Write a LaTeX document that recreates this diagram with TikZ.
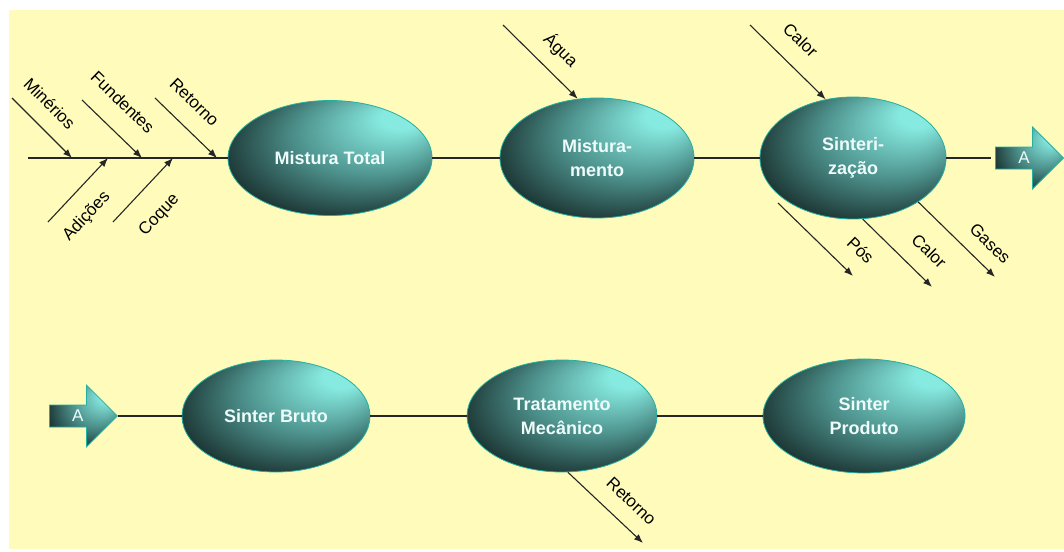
\documentclass[tikz,border=0pt]{standalone}
\usepackage{fontspec}
\setmainfont{Liberation Sans}
\usetikzlibrary{arrows.meta,shapes.geometric,shapes.arrows}

\definecolor{paper}{HTML}{FFFCBB}
\definecolor{rim}{HTML}{22B0A2}
\definecolor{hilite}{HTML}{86EAE0}
\definecolor{midteal}{HTML}{4C8F8A}
\definecolor{deepteal}{HTML}{1C3634}
\definecolor{coal}{HTML}{081111}
\definecolor{ink}{HTML}{262626}
\definecolor{paletxt}{HTML}{EEFCFC}

\pgfdeclareradialshading{oval}{\pgfpoint{20bp}{20bp}}{%
  color(0bp)=(hilite); color(5bp)=(hilite); color(19bp)=(midteal);
  color(31bp)=(deepteal); color(39bp)=(coal)}

\begin{document}
\begin{tikzpicture}[x=1pt,y=-1pt,>={Latex[length=9pt,width=7pt]},
  stage/.style={ellipse,draw=rim,line width=0.8pt,shading=oval,text=paletxt,
    font=\fontsize{18}{24}\selectfont\bfseries,align=center,inner sep=0pt},
  tag/.style={single arrow,draw=rim,line width=0.8pt,shading=oval,text=paletxt,
    font=\fontsize{17}{20}\selectfont,inner sep=2pt,minimum height=68pt,
    minimum width=62pt,single arrow head extend=15pt},
  link/.style={draw=ink,line width=1.1pt},
  feed/.style={->,draw=ink,line width=1.1pt},
  lbl/.style={font=\fontsize{17}{20}\selectfont,sloped,inner sep=1pt}]

\useasboundingbox (0,0) rectangle (1064,551);
\fill[paper] (9,10) rectangle (1064,549);

\node[stage,minimum width=204pt,minimum height=115pt] (mt) at (330,158) {Mistura Total};
\node[stage,minimum width=194pt,minimum height=120pt] (ms) at (597,158) {Mistura-\\mento};
\node[stage,minimum width=186pt,minimum height=122pt] (sz) at (853,158) {Sinteri-\\zação};
\node[tag,anchor=tip] (a1) at (1064,158) {A};

\node[tag,anchor=tail] (a2) at (49,416) {A};
\node[stage,minimum width=188pt,minimum height=112pt] (sb) at (276,416) {Sinter Bruto};
\node[stage,minimum width=190pt,minimum height=112pt] (tm) at (562,416) {Tratamento\\Mecânico};
\node[stage,minimum width=202pt,minimum height=114pt] (sp) at (864,416) {Sinter\\Produto};

\coordinate (spine) at (28,158);
\coordinate (min0) at (12,98);   \coordinate (min1) at (72,158);
\coordinate (fun0) at (82,100);  \coordinate (fun1) at (142,158);
\coordinate (ret0) at (155,98);  \coordinate (ret1) at (217,158);
\coordinate (adi0) at (48,222);  \coordinate (adi1) at (108,158);
\coordinate (coq0) at (113,222); \coordinate (coq1) at (173,158);
\coordinate (agua) at (503,25);
\coordinate (calin) at (750,25);
\coordinate (pos0) at (778,203); \coordinate (pos1) at (853,276);
\coordinate (calout) at (932,287);
\coordinate (gas) at (995,277);
\coordinate (retout) at (643,543);

\draw[link] (spine) -- (mt.west);
\draw[link] (mt.east) -- (ms.west);
\draw[link] (ms.east) -- (sz.west);
\draw[link] (sz.east) -- ([xshift=-4pt]a1.tail);
\draw[link] (a2.tip) -- (sb.west);
\draw[link] (sb.east) -- (tm.west);
\draw[link] (tm.east) -- (sp.west);

\draw[feed] (min0) -- node[lbl,above=15pt,pos=.36] {Minérios} (min1);
\draw[feed] (fun0) -- node[lbl,above=19pt,pos=.37] {Fundentes} (fun1);
\draw[feed] (ret0) -- node[lbl,above=17pt,pos=.36] {Retorno} (ret1);
\draw[feed] (adi0) -- node[lbl,below=15pt,pos=.35] {Adições} (adi1);
\draw[feed] (coq0) -- node[lbl,below=20pt,pos=.42] {Coque} (coq1);

\draw[feed] (agua) -- node[lbl,above=12pt,pos=.56] {Água} (ms.108);
\draw[feed] (calin) -- node[lbl,above=17pt,pos=.44] {Calor} (sz.115);
\draw[feed] (pos0) -- node[lbl,above=16pt,pos=.88] {Pós} (pos1);
\draw[feed] (sz.-81) -- node[lbl,above=16pt,pos=.72] {Calor} (calout);
\draw[feed] (sz.-34) -- node[lbl,above=13pt,pos=.75] {Gases} (gas);
\draw[feed] (tm.-84) -- node[lbl,above=15pt,pos=.64] {Retorno} (retout);

\end{tikzpicture}
\end{document}
